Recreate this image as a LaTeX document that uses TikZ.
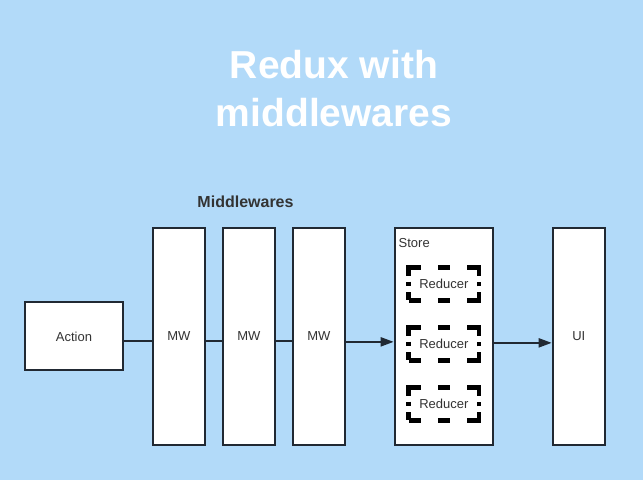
\documentclass[tikz,border=0pt]{standalone}
\usepackage{fontspec}
\setmainfont{Liberation Sans}
\usetikzlibrary{arrows.meta}
\definecolor{bg}{RGB}{178,218,249}
\definecolor{stroke}{RGB}{33,41,51}
\definecolor{txt}{RGB}{51,51,51}
\tikzset{
  box/.style={draw=stroke, line width=2pt, fill=white, inner sep=0pt, text=txt, font=\fontsize{13}{15}\selectfont},
  mwbox/.style={box, minimum width=52.3pt, minimum height=217.3pt},
  reducer/.style={draw=black, line width=4.5pt,
    dash pattern=on 20pt off 17.15pt on 12pt off 17.15pt on 20pt off 6pt on 4.6pt off 6pt,
    dash phase=8pt, fill=white, inner sep=0pt, minimum width=70.3pt, minimum height=32.6pt,
    text=txt, font=\fontsize{13}{15}\selectfont},
  link/.style={draw=stroke, line width=2pt},
  arrowlink/.style={link, -{Triangle[length=13pt,width=9pt]}},
}
\begin{document}
\begin{tikzpicture}[x=1pt,y=-1pt]
\fill[bg] (0,0) rectangle (643,480);
\useasboundingbox (0,0) rectangle (643,480);
\node[text=white, font=\fontsize{39}{48}\selectfont\bfseries, align=center] (title) at (334,89) {Redux with\\middlewares};
\node[text=txt, font=\fontsize{16}{18}\selectfont\bfseries] (mwlabel) at (245.5,202) {Middlewares};
\node[box, minimum width=98.6pt, minimum height=68pt] (action) at (74,336.35) {Action};
\node[mwbox] (mw1) at (178.85,336.35) {MW};
\node[mwbox] (mw2) at (248.85,336.35) {MW};
\node[mwbox] (mw3) at (318.85,336.35) {MW};
\node[box, minimum width=98.6pt, minimum height=217.3pt] (store) at (444,336.35) {};
\node[text=txt, font=\fontsize{13}{15}\selectfont, anchor=west, inner sep=0pt] (storelabel) at (398.5,242.7) {Store};
\node[reducer] (r1) at (443.85,284) {Reducer};
\node[reducer] (r2) at (443.85,344) {Reducer};
\node[reducer] (r3) at (443.85,404) {Reducer};
\node[mwbox] (ui) at (578.85,336.35) {UI};
\path[link] ([yshift=-5pt]action.east) -- ([yshift=-5pt]mw1.west);
\path[link] ([yshift=-5pt]mw1.east) -- ([yshift=-5pt]mw2.west);
\path[link] ([yshift=-5pt]mw2.east) -- ([yshift=-5pt]mw3.west);
\path[arrowlink] ([yshift=-5.5pt]mw3.east) -- ([yshift=-5.5pt]store.west);
\path[arrowlink] ([yshift=-6.5pt]store.east) -- ([yshift=-6.5pt]ui.west);
\end{tikzpicture}
\end{document}
